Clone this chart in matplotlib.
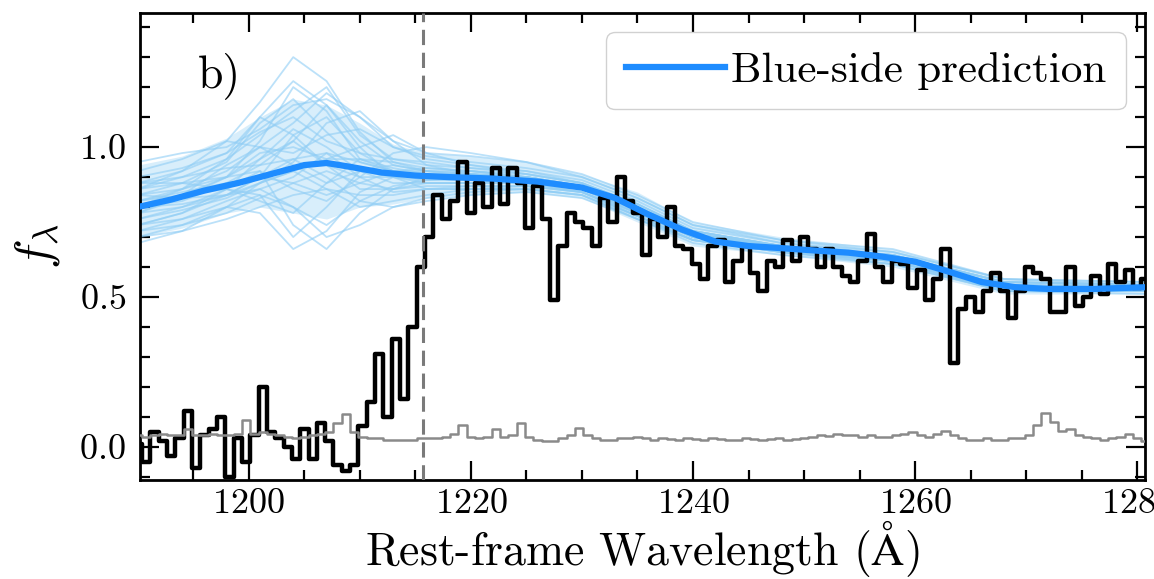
import numpy as np
import matplotlib
matplotlib.use("Agg")
import matplotlib.pyplot as plt
from matplotlib.ticker import MultipleLocator

plt.rcParams['font.family'] = ['cmr10', 'DejaVu Serif']
plt.rcParams['mathtext.fontset'] = 'cm'
plt.rcParams['axes.formatter.use_mathtext'] = True

# ---------------- data ----------------
wave_start = 1190.0
wave_step = 0.75

flux = [0.01, -0.05, 0.05, 0.02, -0.03, 0.03, 0.12, -0.07, 0.04, 0.06,
        0.10, -0.10, 0.03, -0.05, 0.04, 0.20, 0.05, 0.03, 0.00, -0.04,
        0.06, -0.04, 0.08, 0.02, -0.06, -0.08, -0.06, 0.07, 0.15, 0.31,
        0.10, 0.36, 0.16, 0.40, 0.60, 0.70, 0.84, 0.76, 0.82, 0.95,
        0.78, 0.88, 0.80, 0.93, 0.81, 0.93, 0.88, 0.73, 0.87, 0.76,
        0.49, 0.67, 0.78, 0.75, 0.73, 0.67, 0.83, 0.75, 0.90, 0.82,
        0.78, 0.64, 0.76, 0.70, 0.80, 0.67, 0.66, 0.61, 0.56, 0.67,
        0.69, 0.55, 0.62, 0.67, 0.58, 0.52, 0.62, 0.60, 0.69, 0.62,
        0.70, 0.66, 0.60, 0.66, 0.60, 0.57, 0.55, 0.62, 0.71, 0.60,
        0.55, 0.62, 0.61, 0.53, 0.59, 0.49, 0.56, 0.66, 0.28, 0.46,
        0.50, 0.45, 0.52, 0.58, 0.52, 0.43, 0.52, 0.60, 0.58, 0.56,
        0.45, 0.45, 0.60, 0.47, 0.50, 0.57, 0.51, 0.61, 0.55, 0.59,
        0.53, 0.56]

err = [0.040, 0.035, 0.040, 0.045, 0.040, 0.040, 0.060, 0.040, 0.040, 0.045,
       0.040, 0.040, 0.045, 0.090, 0.045, 0.050, 0.045, 0.040, 0.035, 0.030,
       0.035, 0.040, 0.045, 0.050, 0.080, 0.110, 0.050, 0.035, 0.030, 0.030,
       0.025, 0.025, 0.022, 0.025, 0.030, 0.030, 0.030, 0.035, 0.045, 0.075,
       0.035, 0.030, 0.035, 0.060, 0.035, 0.040, 0.080, 0.035, 0.025, 0.020,
       0.020, 0.030, 0.040, 0.065, 0.040, 0.030, 0.025, 0.025, 0.030, 0.030,
       0.035, 0.030, 0.025, 0.030, 0.028, 0.025, 0.030, 0.027, 0.025, 0.030,
       0.028, 0.025, 0.025, 0.030, 0.026, 0.025, 0.028, 0.030, 0.025, 0.026,
       0.030, 0.035, 0.040, 0.038, 0.045, 0.040, 0.040, 0.035, 0.040, 0.035,
       0.035, 0.040, 0.045, 0.050, 0.040, 0.035, 0.045, 0.055, 0.040, 0.030,
       0.025, 0.025, 0.030, 0.025, 0.025, 0.030, 0.030, 0.040, 0.075, 0.115,
       0.085, 0.055, 0.060, 0.040, 0.035, 0.030, 0.025, 0.030, 0.035, 0.045,
       0.030, 0.020]

med_x = [1190, 1193, 1196, 1199, 1202, 1205, 1207, 1209, 1212, 1215,
         1218, 1222, 1226, 1230, 1233, 1236, 1239, 1242, 1245, 1248,
         1251, 1254, 1257, 1260, 1263, 1266, 1269, 1272, 1276, 1281]
med_y = [0.800, 0.825, 0.855, 0.880, 0.910, 0.940, 0.947, 0.935, 0.915, 0.905,
         0.900, 0.895, 0.885, 0.865, 0.830, 0.775, 0.725, 0.685, 0.670, 0.663,
         0.655, 0.648, 0.635, 0.618, 0.585, 0.550, 0.533, 0.527, 0.527, 0.533]

node_x = [1190, 1194, 1198, 1201, 1204, 1207, 1210, 1213, 1216, 1220,
          1225, 1230, 1235, 1240, 1248, 1258, 1268, 1281]

samples = [
    [0.86, 0.92, 1.02, 1.15, 1.30, 1.22, 1.05, 0.95, 0.93, 0.92, 0.90, 0.87, 0.80, 0.71, 0.67, 0.63, 0.54, 0.53],
    [0.74, 0.76, 0.80, 0.78, 0.66, 0.72, 0.85, 0.90, 0.88, 0.88, 0.89, 0.86, 0.78, 0.70, 0.66, 0.62, 0.53, 0.53],
    [0.90, 0.93, 0.98, 1.05, 1.10, 1.02, 0.98, 0.96, 0.95, 0.93, 0.92, 0.89, 0.82, 0.73, 0.68, 0.64, 0.55, 0.54],
    [0.72, 0.74, 0.78, 0.83, 0.88, 0.92, 0.88, 0.86, 0.87, 0.87, 0.87, 0.85, 0.77, 0.69, 0.65, 0.62, 0.52, 0.52],
    [0.82, 0.86, 0.92, 1.00, 1.08, 1.18, 1.10, 1.00, 0.96, 0.94, 0.92, 0.88, 0.81, 0.72, 0.67, 0.64, 0.55, 0.54],
    [0.78, 0.80, 0.84, 0.86, 0.80, 0.74, 0.82, 0.87, 0.89, 0.90, 0.89, 0.86, 0.78, 0.70, 0.66, 0.63, 0.53, 0.53],
    [0.84, 0.88, 0.95, 1.08, 1.16, 1.05, 0.95, 0.92, 0.91, 0.91, 0.90, 0.87, 0.80, 0.71, 0.67, 0.63, 0.54, 0.53],
    [0.76, 0.79, 0.83, 0.88, 0.95, 1.08, 1.12, 1.02, 0.94, 0.91, 0.89, 0.86, 0.79, 0.70, 0.66, 0.63, 0.54, 0.53],
    [0.88, 0.90, 0.93, 0.94, 0.96, 0.98, 0.95, 0.92, 0.90, 0.89, 0.88, 0.86, 0.79, 0.71, 0.67, 0.64, 0.54, 0.54],
    [0.70, 0.72, 0.76, 0.80, 0.84, 0.86, 0.84, 0.84, 0.86, 0.86, 0.86, 0.84, 0.76, 0.69, 0.65, 0.61, 0.52, 0.52],
    [0.80, 0.84, 0.90, 1.02, 1.20, 1.12, 0.96, 0.92, 0.92, 0.92, 0.90, 0.87, 0.80, 0.71, 0.66, 0.63, 0.54, 0.53],
    [0.86, 0.88, 0.86, 0.82, 0.78, 0.88, 0.96, 0.95, 0.92, 0.90, 0.89, 0.86, 0.79, 0.70, 0.66, 0.63, 0.53, 0.53],
    [0.92, 0.96, 1.02, 1.00, 0.98, 1.04, 1.06, 1.00, 0.97, 0.95, 0.93, 0.90, 0.83, 0.74, 0.69, 0.65, 0.56, 0.55],
    [0.74, 0.78, 0.84, 0.90, 0.96, 0.90, 0.82, 0.80, 0.83, 0.85, 0.86, 0.84, 0.77, 0.69, 0.65, 0.62, 0.52, 0.52],
    [0.80, 0.82, 0.88, 0.94, 1.02, 1.14, 1.02, 0.94, 0.92, 0.91, 0.90, 0.87, 0.80, 0.71, 0.67, 0.63, 0.54, 0.53],
    [0.82, 0.85, 0.88, 0.90, 0.88, 0.84, 0.88, 0.92, 0.93, 0.92, 0.90, 0.87, 0.79, 0.71, 0.66, 0.63, 0.54, 0.53],
    [0.78, 0.83, 0.90, 0.96, 1.06, 1.00, 0.92, 0.88, 0.88, 0.88, 0.88, 0.85, 0.78, 0.70, 0.66, 0.62, 0.53, 0.53],
    [0.84, 0.86, 0.90, 0.98, 1.00, 0.96, 1.00, 1.04, 0.98, 0.94, 0.91, 0.88, 0.81, 0.72, 0.67, 0.64, 0.55, 0.54],
    [0.76, 0.80, 0.86, 0.92, 0.74, 0.66, 0.78, 0.86, 0.88, 0.88, 0.88, 0.85, 0.78, 0.70, 0.66, 0.62, 0.53, 0.53],
    [0.86, 0.90, 0.96, 1.04, 1.12, 1.20, 1.04, 0.96, 0.94, 0.93, 0.91, 0.88, 0.81, 0.72, 0.67, 0.64, 0.55, 0.54],
    [0.80, 0.81, 0.84, 0.88, 0.92, 0.96, 0.96, 0.93, 0.91, 0.90, 0.89, 0.86, 0.79, 0.71, 0.66, 0.63, 0.54, 0.53],
    [0.72, 0.76, 0.82, 0.86, 0.90, 0.98, 0.90, 0.85, 0.86, 0.87, 0.87, 0.85, 0.77, 0.70, 0.65, 0.62, 0.53, 0.52],
    [0.88, 0.92, 0.98, 1.10, 1.04, 0.94, 0.90, 0.90, 0.91, 0.91, 0.90, 0.87, 0.80, 0.72, 0.67, 0.64, 0.55, 0.54],
    [0.82, 0.84, 0.86, 0.84, 0.70, 0.80, 0.92, 0.94, 0.92, 0.91, 0.89, 0.86, 0.79, 0.71, 0.66, 0.63, 0.53, 0.53],
    [0.68, 0.72, 0.80, 0.88, 0.92, 0.86, 0.80, 0.82, 0.84, 0.86, 0.86, 0.84, 0.76, 0.69, 0.65, 0.61, 0.52, 0.52],
    [0.95, 0.98, 1.00, 1.06, 1.14, 1.16, 1.10, 1.02, 0.98, 0.97, 0.95, 0.91, 0.84, 0.75, 0.69, 0.66, 0.56, 0.55],
    [0.78, 0.84, 0.94, 1.00, 0.94, 0.88, 0.92, 0.90, 0.89, 0.89, 0.88, 0.86, 0.79, 0.70, 0.66, 0.63, 0.54, 0.53],
    [0.84, 0.83, 0.84, 0.90, 1.04, 1.10, 0.98, 0.92, 0.90, 0.90, 0.90, 0.87, 0.80, 0.71, 0.67, 0.63, 0.54, 0.53],
    [0.74, 0.78, 0.86, 0.96, 1.02, 0.94, 0.86, 0.86, 0.90, 0.92, 0.91, 0.88, 0.80, 0.72, 0.67, 0.63, 0.54, 0.53],
    [0.88, 0.88, 0.90, 0.92, 0.86, 0.82, 0.90, 0.98, 1.00, 0.98, 0.95, 0.90, 0.83, 0.74, 0.68, 0.65, 0.56, 0.54],
    [0.80, 0.86, 0.96, 1.10, 1.22, 1.14, 1.00, 0.90, 0.86, 0.86, 0.87, 0.85, 0.77, 0.69, 0.65, 0.62, 0.52, 0.52],
    [0.70, 0.74, 0.80, 0.84, 0.80, 0.70, 0.74, 0.80, 0.82, 0.84, 0.85, 0.83, 0.76, 0.68, 0.64, 0.61, 0.52, 0.51],
]

band_lo = [0.70, 0.73, 0.78, 0.80, 0.78, 0.76, 0.80, 0.81, 0.83, 0.84, 0.85, 0.83, 0.75, 0.67, 0.64, 0.60, 0.51, 0.51]
band_hi = [0.94, 0.97, 1.03, 1.10, 1.16, 1.14, 1.08, 1.01, 0.98, 0.97, 0.95, 0.91, 0.85, 0.75, 0.70, 0.66, 0.56, 0.55]

lya = 1215.67
x_ticks = [1200, 1220, 1240, 1260, 1280]
y_ticks = [0.0, 0.5, 1.0]

# ---------------- figure ----------------
wave = wave_start + wave_step * np.arange(len(flux))

fig = plt.figure(figsize=(11.54, 5.79), dpi=100)
ax = fig.add_axes([0.1213, 0.171, 0.8709, 0.8065])

ax.fill_between(node_x, band_lo, band_hi, color='#b8e0f9', alpha=0.55, lw=0, zorder=1)
for s in samples:
    ax.plot(node_x, s, color='#8fcdf5', lw=1.3, alpha=0.6, zorder=2)

ax.plot(wave, flux, drawstyle='steps-mid', color='black', lw=3.2, zorder=3)
ax.plot(wave, err, drawstyle='steps-mid', color='#8a8a8a', lw=1.8, zorder=3)
ax.axvline(lya, color='#7a7a7a', lw=2.2, ls=(0, (5, 2.5)), zorder=4)
ax.plot(med_x, med_y, color='#1e8cff', lw=4.5, zorder=5, label='Blue-side prediction')

ax.set_xlim(1190.2, 1280.7)
ax.set_ylim(-0.11, 1.447)
ax.set_xticks(x_ticks)
ax.set_yticks(y_ticks)
ax.xaxis.set_minor_locator(MultipleLocator(5))
ax.yaxis.set_minor_locator(MultipleLocator(0.1))
ax.tick_params(which='both', direction='in', top=True, right=True, width=1.6,
               labelsize=26, pad=10)
ax.tick_params(axis='x', which='both', pad=6)
ax.tick_params(which='major', length=14)
ax.tick_params(which='minor', length=7)
for sp in ax.spines.values():
    sp.set_linewidth(2.0)

ax.set_xlabel(r'Rest-frame Wavelength ($\mathrm{\AA}$)', fontsize=33)
ax.xaxis.set_label_coords(0.5, -0.082)
ax.set_ylabel(r'$f_\lambda$', fontsize=36)
ax.yaxis.set_label_coords(-0.078, 0.5)

ax.text(0.058, 0.867, 'b)', transform=ax.transAxes, fontsize=33, va='center', ha='left')

leg = ax.legend(loc='upper right', fontsize=31, handlelength=2.3, handletextpad=0.15,
                borderpad=0.45, borderaxespad=0.45, fancybox=True, framealpha=0.9,
                edgecolor='#cccccc')

fig.savefig('out.png', dpi=100)
